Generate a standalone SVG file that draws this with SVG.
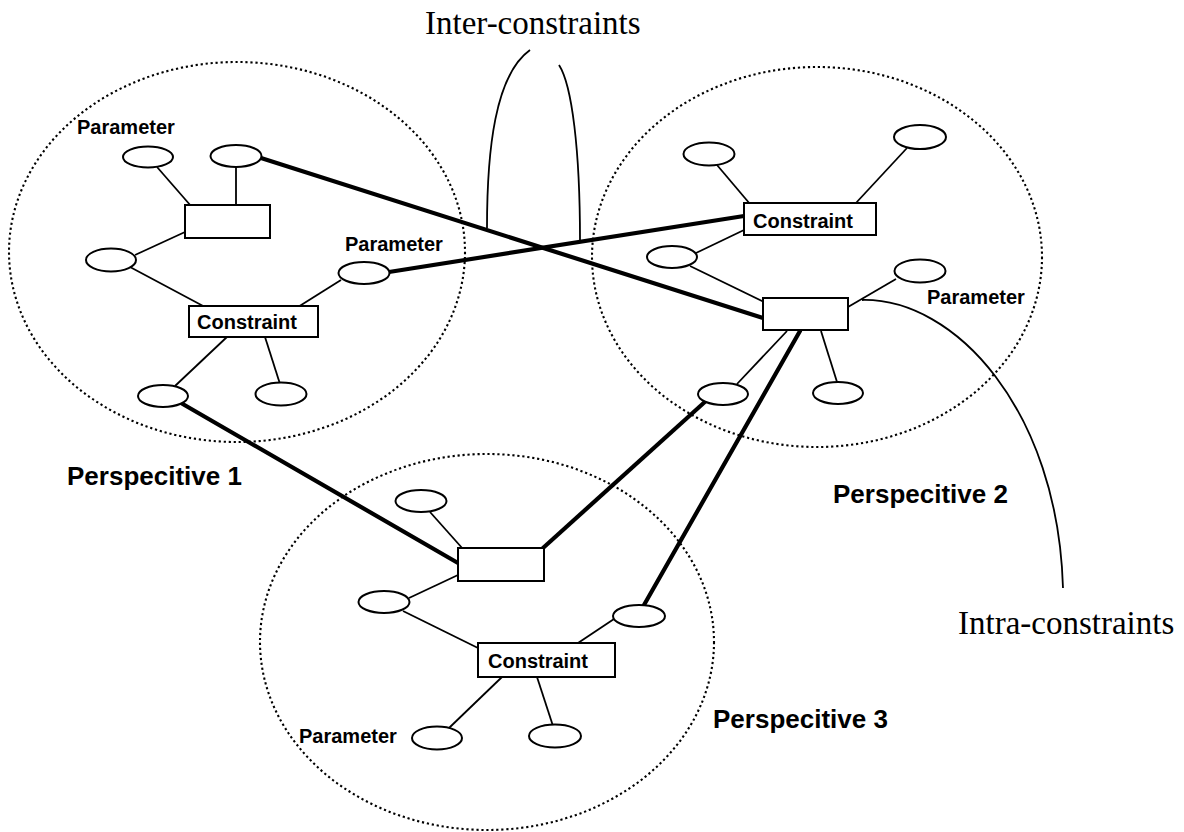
<svg xmlns="http://www.w3.org/2000/svg" width="1184" height="832" viewBox="0 0 1184 832">
  <style>
    .region { fill: none; stroke: #000; stroke-width: 2.1; stroke-dasharray: 2.2 2.8; }
    .param { fill: #fff; stroke: #000; stroke-width: 2; }
    .box { fill: #fff; stroke: #000; stroke-width: 2; }
    .thin { fill: none; stroke: #000; stroke-width: 1.8; }
    .thick { fill: none; stroke: #000; stroke-width: 4.2; stroke-linecap: round; }
    .brace { fill: none; stroke: #000; stroke-width: 1.8; }
    .lbl { font-family: "Liberation Sans", Arial, sans-serif; font-weight: bold; font-size: 20px; fill: #000; }
    .persp { font-family: "Liberation Sans", Arial, sans-serif; font-weight: bold; font-size: 26px; fill: #000; }
    .title { font-family: "Liberation Serif", "Times New Roman", serif; font-size: 33px; fill: #000; }
  </style>
  <rect width="1184" height="832" fill="#fff"/>

  <!-- perspective regions -->
  <g id="regions">
    <ellipse class="region" cx="237" cy="252" rx="228" ry="190"/>
    <ellipse class="region" cx="817" cy="257" rx="225" ry="190"/>
    <ellipse class="region" cx="487" cy="642" rx="227" ry="188"/>
  </g>

  <!-- connectors -->
  <g id="connectors">
    <!-- intra-perspective links, perspective 1 -->
    <line class="thin" x1="157" y1="167" x2="191" y2="206"/>
    <line class="thin" x1="236" y1="167" x2="236" y2="205"/>
    <line class="thin" x1="185" y1="232" x2="135" y2="255"/>
    <line class="thin" x1="130" y1="267" x2="205" y2="307"/>
    <line class="thin" x1="298" y1="307" x2="341" y2="280"/>
    <line class="thin" x1="228" y1="336" x2="175" y2="386"/>
    <line class="thin" x1="265" y1="337" x2="280" y2="384"/>
    <!-- perspective 2 -->
    <line class="thin" x1="717" y1="165" x2="750" y2="204"/>
    <line class="thin" x1="907" y1="148" x2="855" y2="204"/>
    <line class="thin" x1="744" y1="230" x2="696" y2="253"/>
    <line class="thin" x1="690" y1="266" x2="764" y2="302"/>
    <line class="thin" x1="848" y1="307" x2="896" y2="279"/>
    <line class="thin" x1="787" y1="331" x2="737" y2="384"/>
    <line class="thin" x1="821" y1="331" x2="837" y2="382"/>
    <!-- perspective 3 -->
    <line class="thin" x1="430" y1="512" x2="463" y2="549"/>
    <line class="thin" x1="458" y1="575" x2="409" y2="598"/>
    <line class="thin" x1="403" y1="611" x2="478" y2="648"/>
    <line class="thin" x1="578" y1="643" x2="614" y2="619"/>
    <line class="thin" x1="502" y1="677" x2="449" y2="728"/>
    <line class="thin" x1="537" y1="677" x2="553" y2="726"/>

    <!-- inter-perspective links -->
    <line class="thick" x1="261" y1="158" x2="763" y2="318"/>
    <line class="thick" x1="389" y1="272" x2="744" y2="216"/>
    <line class="thick" x1="181" y1="403" x2="458" y2="563"/>
    <line class="thick" x1="707" y1="400" x2="543" y2="548"/>
    <line class="thick" x1="800" y1="331" x2="644" y2="605"/>

    <!-- callout braces -->
    <path class="brace" d="M 487 228 C 487 150 495 75 530 50"/>
    <path class="brace" d="M 559 65 C 572 85 580 150 580 240"/>
    <path class="brace" d="M 862 300 C 955 298 1058 410 1063 588"/>
  </g>

  <!-- perspective 1 -->
  <g id="p1-param-a"><ellipse class="param" cx="148" cy="157" rx="25" ry="10.5"/></g>
  <g id="p1-param-b"><ellipse class="param" cx="236" cy="156" rx="25.5" ry="11"/></g>
  <g id="p1-box"><rect class="box" x="185" y="205" width="85" height="33"/></g>
  <g id="p1-param-c"><ellipse class="param" cx="111" cy="260" rx="25" ry="11.5"/></g>
  <g id="p1-param-d"><ellipse class="param" cx="364" cy="273" rx="25.5" ry="11"/></g>
  <g id="p1-constraint">
    <rect class="box" x="189" y="306" width="129" height="31"/>
    <text class="lbl" x="197" y="329">Constraint</text>
  </g>
  <g id="p1-param-e"><ellipse class="param" cx="163" cy="396" rx="25" ry="11"/></g>
  <g id="p1-param-f"><ellipse class="param" cx="281" cy="394" rx="25.5" ry="11.5"/></g>

  <!-- perspective 2 -->
  <g id="p2-param-a"><ellipse class="param" cx="709" cy="154" rx="25.5" ry="11.5"/></g>
  <g id="p2-param-b"><ellipse class="param" cx="920" cy="137" rx="26" ry="12"/></g>
  <g id="p2-constraint">
    <rect class="box" x="744" y="203" width="132" height="32"/>
    <text class="lbl" x="753" y="228">Constraint</text>
  </g>
  <g id="p2-param-c"><ellipse class="param" cx="672" cy="257" rx="25" ry="11"/></g>
  <g id="p2-box"><rect class="box" x="763" y="298" width="85" height="32"/></g>
  <g id="p2-param-d"><ellipse class="param" cx="920" cy="271" rx="25.5" ry="11.5"/></g>
  <g id="p2-param-e"><ellipse class="param" cx="723" cy="394" rx="25" ry="11"/></g>
  <g id="p2-param-f"><ellipse class="param" cx="838" cy="393" rx="25" ry="11"/></g>

  <!-- perspective 3 -->
  <g id="p3-param-a"><ellipse class="param" cx="421" cy="501" rx="25.5" ry="11"/></g>
  <g id="p3-box"><rect class="box" x="458" y="548" width="86" height="33"/></g>
  <g id="p3-param-b"><ellipse class="param" cx="384" cy="602" rx="25.5" ry="11"/></g>
  <g id="p3-constraint">
    <rect class="box" x="478" y="643" width="137" height="34"/>
    <text class="lbl" x="488" y="668">Constraint</text>
  </g>
  <g id="p3-param-c"><ellipse class="param" cx="639" cy="616" rx="26" ry="11"/></g>
  <g id="p3-param-d"><ellipse class="param" cx="437" cy="738" rx="25" ry="11.5"/></g>
  <g id="p3-param-e"><ellipse class="param" cx="555" cy="736" rx="26" ry="11.5"/></g>

  <!-- labels -->
  <g id="labels">
    <text class="lbl" x="77" y="134">Parameter</text>
    <text class="lbl" x="345" y="251">Parameter</text>
    <text class="lbl" x="927" y="304">Parameter</text>
    <text class="lbl" x="299" y="743">Parameter</text>
    <text class="persp" x="67" y="485">Perspecitive 1</text>
    <text class="persp" x="833" y="503">Perspecitive 2</text>
    <text class="persp" x="713" y="728">Perspecitive 3</text>
    <text class="title" x="425" y="34">Inter-constraints</text>
    <text class="title" x="958" y="634">Intra-constraints</text>
  </g>
</svg>
